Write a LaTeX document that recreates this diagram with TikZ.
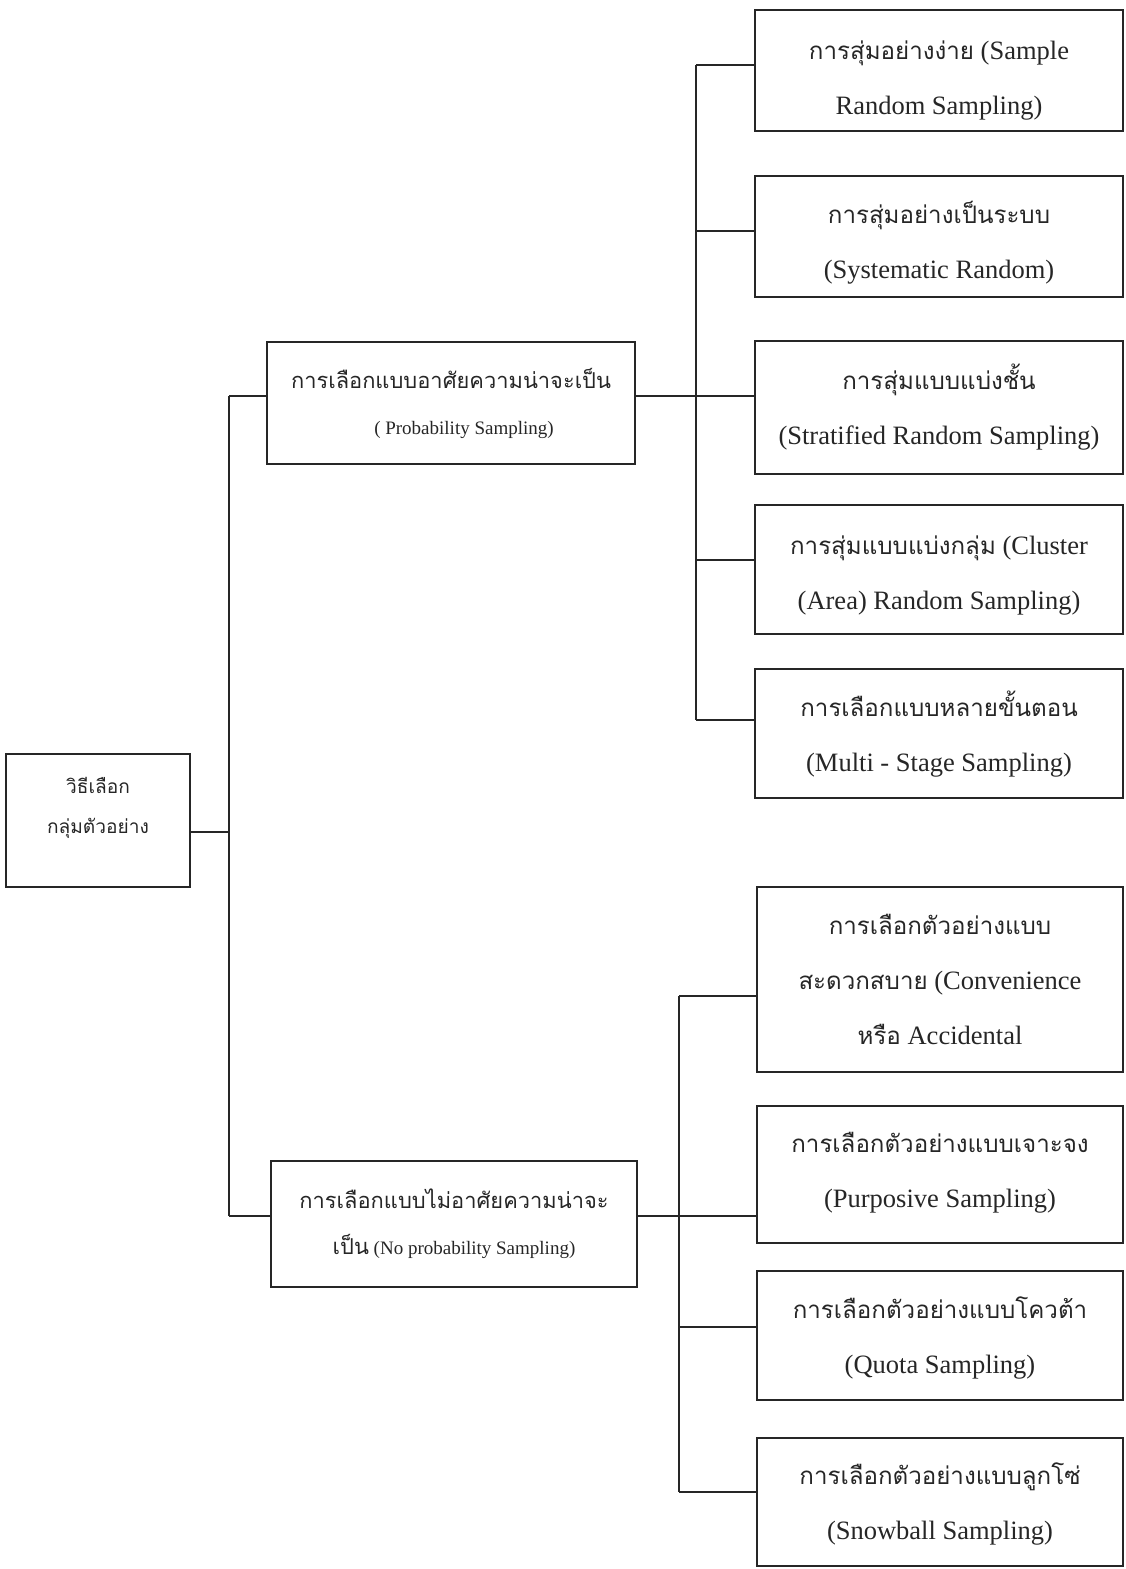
\documentclass[tikz,border=0pt]{standalone}
\usepackage{fontspec}
\setmainfont{Liberation Serif}
\newfontfamily\thaiA[Script=Thai,Scale=0.91]{Loma}
\newfontfamily\thaiB[Script=Thai,Scale=1.15]{Loma}
\newcommand\TA[1]{{\thaiA #1}}
\newcommand\TB[1]{{\thaiB #1}}
% vertical placement struts: baseline midpoint = box centre + #1 pt (downwards)
\newcommand\hs[1]{\rule{0pt}{\dimexpr28pt+#1pt\relax}}
\newcommand\ds[1]{\rule[\dimexpr-28pt+#1pt\relax]{0pt}{\dimexpr28pt-#1pt\relax}}
\tikzset{
  box/.style={draw=black!85, line width=1.6pt, inner sep=0pt, align=center, text=black!85},
  rbox/.style={box, minimum width=368pt, font=\fontsize{26.5}{55}\selectfont},
  mbox/.style={box, minimum width=368pt, font=\fontsize{19}{46}\selectfont},
  conn/.style={draw=black!85, line width=1.6pt},
}
\begin{document}
\begin{tikzpicture}[x=1pt,y=-1pt]
\useasboundingbox (0,0) rectangle (1125,1569);
% root
\node[box, minimum width=184pt, minimum height=133pt, font=\fontsize{21}{40}\selectfont] (root) at (98,820.5) {\hs{-7.5}\TA{วิธีเลือก}\\\TA{กลุ่มตัวอย่าง}\ds{-7.5}};
% middle
\node[mbox, minimum height=122pt] (P) at (451,403) {\TB{การเลือกแบบอาศัยความน่าจะเป็น}\\\hspace*{26pt}( Probability Sampling)};
\node[mbox, minimum width=366pt, minimum height=126pt] (N) at (454,1224) {\TB{การเลือกแบบไม่อาศัยความน่าจะ}\\\TB{เป็น} (No probability Sampling)};
% right top
\node[rbox, minimum height=121pt] (r1) at (939,70.5) {\hs{16}\TA{การสุ่มอย่างง่าย} (Sample\\Random Sampling)\ds{16}};
\node[rbox, minimum height=121pt] (r2) at (939,236.5) {\hs{14}\TA{การสุ่มอย่างเป็นระบบ}\\(Systematic Random)\ds{14}};
\node[rbox, minimum height=133pt] (r3) at (939,407.5) {\hs{9.5}\TA{การสุ่มแบบแบ่งชั้น}\\(Stratified Random Sampling)\ds{9.5}};
\node[rbox, minimum height=129pt] (r4) at (939,569.5) {\hs{12}\TA{การสุ่มแบบแบ่งกลุ่ม} (Cluster\\(Area) Random Sampling)\ds{12}};
\node[rbox, minimum height=129pt] (r5) at (939,733.5) {\hs{10}\TA{การเลือกแบบหลายขั้นตอน}\\(Multi - Stage Sampling)\ds{10}};
% right bottom
\node[rbox, minimum width=366pt, minimum height=185pt] (b1) at (940,979.5) {\hs{10}\TA{การเลือกตัวอย่างแบบ}\\\TA{สะดวกสบาย} (Convenience\\\TA{หรือ} Accidental\ds{10}};
\node[rbox, minimum width=366pt, minimum height=137pt] (b2) at (940,1174.5) {\hs{5.5}\TA{การเลือกตัวอย่างแบบเจาะจง}\\(Purposive Sampling)\ds{5.5}};
\node[rbox, minimum width=366pt, minimum height=129pt] (b3) at (940,1335.5) {\hs{10.5}\TA{การเลือกตัวอย่างแบบโควต้า}\\(Quota Sampling)\ds{10.5}};
\node[rbox, minimum width=366pt, minimum height=128pt] (b4) at (940,1502) {\hs{9.5}\TA{การเลือกตัวอย่างแบบลูกโซ่}\\(Snowball Sampling)\ds{9.5}};
% junctions
\coordinate (jP) at (229,396);
\coordinate (jN) at (229,1216);
\coordinate (rootE) at ([yshift=-11.5pt]root.east);
\coordinate (k1) at (696,65);
\coordinate (k2) at (696,231);
\coordinate (k3) at (696,396);
\coordinate (k4) at (696,560);
\coordinate (k5) at (696,720);
\coordinate (m1) at (679,996);
\coordinate (m2) at (679,1216);
\coordinate (m3) at (679,1327);
\coordinate (m4) at (679,1492);
% connectors
\draw[conn] (jP) -- (jN);
\draw[conn] (rootE) -- (rootE -| jP);
\draw[conn] (jP) -- (P.west |- jP);
\draw[conn] (jN) -- (N.west |- jN);
\draw[conn] (k1) -- (k5);
\draw[conn] (P.east |- k3) -- (r3.west |- k3);
\draw[conn] (k1) -- (r1.west |- k1);
\draw[conn] (k2) -- (r2.west |- k2);
\draw[conn] (k4) -- (r4.west |- k4);
\draw[conn] (k5) -- (r5.west |- k5);
\draw[conn] (m1) -- (m4);
\draw[conn] (N.east |- m2) -- (b2.west |- m2);
\draw[conn] (m1) -- (b1.west |- m1);
\draw[conn] (m3) -- (b3.west |- m3);
\draw[conn] (m4) -- (b4.west |- m4);
\end{tikzpicture}
\end{document}
